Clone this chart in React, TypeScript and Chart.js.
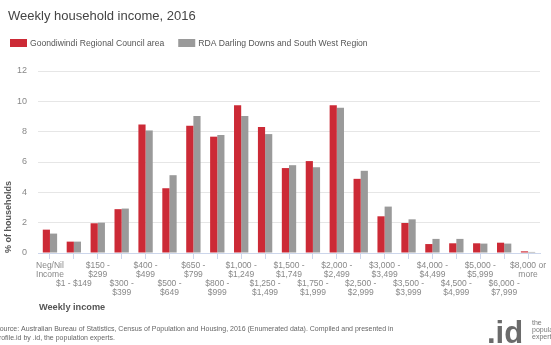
import React, { useEffect, useRef } from "react";
import { Chart, registerables } from "chart.js";

Chart.register(...registerables);

const categories: string[][] = [
  ["Neg/Nil", "Income"],
  ["", "", "$1 - $149"],
  ["$150 -", "$299"],
  ["", "", "$300 -", "$399"],
  ["$400 -", "$499"],
  ["", "", "$500 -", "$649"],
  ["$650 -", "$799"],
  ["", "", "$800 -", "$999"],
  ["$1,000 -", "$1,249"],
  ["", "", "$1,250 -", "$1,499"],
  ["$1,500 -", "$1,749"],
  ["", "", "$1,750 -", "$1,999"],
  ["$2,000 -", "$2,499"],
  ["", "", "$2,500 -", "$2,999"],
  ["$3,000 -", "$3,499"],
  ["", "", "$3,500 -", "$3,999"],
  ["$4,000 -", "$4,499"],
  ["", "", "$4,500 -", "$4,999"],
  ["$5,000 -", "$5,999"],
  ["", "", "$6,000 -", "$7,999"],
  ["$8,000 or", "more"],
];

const goondiwindi: number[] = [
  1.54, 0.75, 1.96, 2.89, 8.48, 4.27, 8.39, 7.67, 9.74, 8.3, 5.6, 6.06, 9.74,
  4.89, 2.42, 1.98, 0.59, 0.64, 0.64, 0.68, 0.11,
];
const rdaDarlingDowns: number[] = [
  1.28, 0.75, 2.0, 2.93, 8.08, 5.13, 9.03, 7.78, 9.03, 7.84, 5.79, 5.66, 9.58,
  5.42, 3.06, 2.22, 0.93, 0.93, 0.62, 0.62, 0.07,
];
const seriesNames: string[] = [
  "Goondiwindi Regional Council area",
  "RDA Darling Downs and South West Region",
];
const seriesColors: string[] = ["#cc2a36", "#9a9a9a"];
const yTicks: number[] = [0, 2, 4, 6, 8, 10, 12];

const titleText = "Weekly household income, 2016";
const yTitle = "% of households";
const xTitle = "Weekly income";
const sourceLines: string[] = [
  "Source: Australian Bureau of Statistics, Census of Population and Housing, 2016 (Enumerated data). Compiled and presented in",
  "profile.id by .id, the population experts.",
];

const FONT = "'Liberation Sans', Arial, sans-serif";

const decorPlugin = {
  id: "decor",
  afterDraw(chart: any) {
    const ctx: CanvasRenderingContext2D = chart.ctx;
    const area = chart.chartArea;
    ctx.save();
    // Title
    ctx.fillStyle = "#444";
    ctx.font = `13px ${FONT}`;
    ctx.textAlign = "left";
    ctx.textBaseline = "middle";
    ctx.fillText(titleText, 8, 16);

    // Legend
    ctx.font = `8.6px ${FONT}`;
    let x = 10;
    seriesNames.forEach((name, i) => {
      ctx.fillStyle = seriesColors[i];
      ctx.fillRect(x, 39, 17, 8);
      ctx.fillStyle = "#555";
      ctx.fillText(name, x + 20, 43.5);
      x += 20 + ctx.measureText(name).width + 14;
    });

    // Y axis title
    ctx.save();
    ctx.translate(9, area.bottom);
    ctx.rotate(-Math.PI / 2);
    ctx.font = `bold 9px ${FONT}`;
    ctx.fillStyle = "#555";
    ctx.textAlign = "left";
    ctx.textBaseline = "middle";
    ctx.fillText(yTitle, 0, 0);
    ctx.restore();

    // X axis title
    ctx.font = `bold 9.2px ${FONT}`;
    ctx.fillStyle = "#555";
    ctx.textAlign = "left";
    ctx.textBaseline = "middle";
    ctx.fillText(xTitle, 39, 307);

    // Source
    ctx.font = `7px ${FONT}`;
    ctx.fillStyle = "#666";
    ctx.fillText(sourceLines[0], -5, 329);
    ctx.fillText(sourceLines[1], -5, 338.5);

    // Logo
    ctx.font = `bold 31px ${FONT}`;
    ctx.fillStyle = "#6b6b6b";
    ctx.textBaseline = "alphabetic";
    ctx.fillText(".id", 487, 343);
    ctx.font = `7px ${FONT}`;
    ctx.fillStyle = "#777";
    ctx.textBaseline = "middle";
    ctx.fillText("the", 532, 323);
    ctx.fillText("population", 532, 330);
    ctx.fillText("experts", 532, 337);
    ctx.restore();
  },
};

export default function App() {
  const ref = useRef<HTMLCanvasElement | null>(null);
  useEffect(() => {
    if (!ref.current) return;
    const chart = new Chart(ref.current, {
      type: "bar",
      data: {
        labels: categories,
        datasets: [
          {
            label: seriesNames[0],
            data: goondiwindi,
            backgroundColor: seriesColors[0],
            categoryPercentage: 0.6,
            barPercentage: 1,
          },
          {
            label: seriesNames[1],
            data: rdaDarlingDowns,
            backgroundColor: seriesColors[1],
            categoryPercentage: 0.6,
            barPercentage: 1,
          },
        ],
      },
      options: {
        responsive: false,
        animation: false,
        devicePixelRatio: 1,
        layout: { padding: { top: 71, left: 0, right: 11, bottom: 0 } },
        plugins: {
          legend: { display: false },
          title: { display: false },
          tooltip: { enabled: false },
        },
        scales: {
          x: {
            grid: {
              display: true,
              drawOnChartArea: false,
              drawTicks: true,
              tickLength: 6,
              offset: false,
              color: "#ccd6eb",
            },
            border: { display: true, color: "#ccd6eb" },
            ticks: {
              autoSkip: false,
              maxRotation: 0,
              minRotation: 0,
              padding: 2,
              color: "#888",
              font: { family: FONT, size: 8.5, lineHeight: "9px" },
            },
            afterFit: (scale: any) => {
              scale.height = 92;
            },
          },
          y: {
            min: 0,
            max: 12,
            afterBuildTicks: (scale: any) => {
              scale.ticks = yTicks.map((v) => ({ value: v }));
            },
            grid: { color: "#e6e6e6", drawTicks: false },
            border: { display: false },
            ticks: {
              padding: 11,
              color: "#888",
              font: { family: FONT, size: 9 },
            },
            afterFit: (scale: any) => {
              scale.width = 38;
            },
          },
        },
      },
      plugins: [decorPlugin],
    });
    return () => chart.destroy();
  }, []);
  return (
    <div style={{ position: "fixed", left: 0, top: 0, width: 551, height: 345, background: "#fff" }}>
      <canvas ref={ref} width={551} height={345} style={{ display: "block" }} />
    </div>
  );
}
